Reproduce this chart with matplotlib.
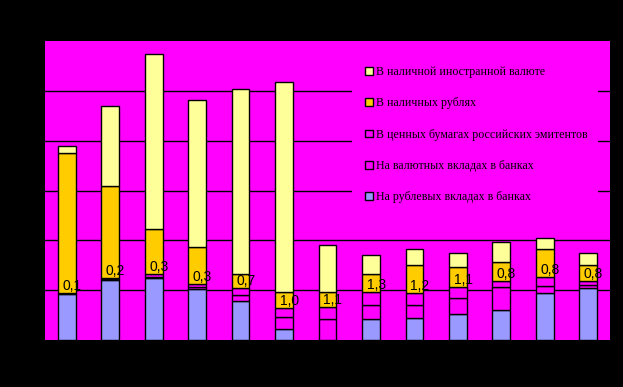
import matplotlib
matplotlib.use("Agg")
import matplotlib.pyplot as plt
import numpy as np
from matplotlib.patches import Rectangle

# ---- data ----
categories = [str(i) for i in range(1, 14)]
rub_deposits = [9.3, 12.1, 12.4, 10.2, 7.8, 2.3, 0.0, 4.2, 4.5, 5.2, 6.0, 9.4, 10.4]
fx_deposits = [0.1, 0.2, 0.25, 0.45, 1.2, 2.3, 4.2, 2.8, 2.6, 3.2, 4.6, 1.5, 0.7]
securities = [0.1, 0.2, 0.55, 0.55, 1.4, 1.8, 2.4, 2.6, 2.4, 2.2, 1.3, 1.7, 0.8]
cash_rub = [28.1, 18.5, 9.0, 7.4, 2.8, 3.3, 3.1, 3.6, 5.6, 4.0, 3.7, 5.6, 3.1]
cash_fx = [1.3, 16.0, 35.2, 29.6, 37.2, 42.0, 9.3, 3.8, 3.2, 2.8, 4.0, 2.2, 2.4]
value_labels = ["0,1", "0,2", "0,3", "0,3", "0,7", "1,0", "1,1", "1,3", "1,2", "1,1", "0,8", "0,8", "0,8"]

series_names = [
    "На рублевых вкладах в банках",
    "На валютных вкладах в банках",
    "В ценных бумагах российских эмитентов",
    "В наличных рублях",
    "В наличной иностранной валюте",
]
series_colors = ["#9999FF", "#FF00FF", "#FF00FF", "#FFCC00", "#FFFF99"]

W, H = 623, 387
fig = plt.figure(figsize=(W / 100, H / 100), dpi=100, facecolor="black")
ax = fig.add_axes([45 / W, (H - 340) / H, (610 - 45) / W, (340 - 41) / H])
ax.set_facecolor("#FF00FF")

x = np.arange(len(categories))
series = [rub_deposits, fx_deposits, securities, cash_rub, cash_fx]
bottom = np.zeros(len(categories))
handles = []
for vals, name, col in zip(series, series_names, series_colors):
    vals = np.array(vals, dtype=float)
    b = ax.bar(x, vals, width=0.41, bottom=bottom, color=col, edgecolor="black",
               linewidth=1.0, label=name, zorder=3)
    handles.append(b)
    bottom = bottom + vals

# value labels just above the securities segment
sec_top = np.array(rub_deposits) + np.array(fx_deposits) + np.array(securities)
for xi, yt, lab in zip(x, sec_top, value_labels):
    ax.annotate(lab, (xi + 0.12, yt), xytext=(0, 0), textcoords="offset points",
                ha="center", va="bottom", fontsize=10, color="black",
                family="Liberation Sans", zorder=5)

# grid lines
for gy in [10, 20, 30, 40, 50]:
    ax.axhline(gy, color="black", linewidth=1.0, zorder=1)

ax.set_xlim(-0.5, 12.5)
ax.set_ylim(0, 60)
ax.set_xticks(x)
ax.set_xticklabels([])
ax.set_yticks([])
ax.tick_params(length=0)
for s in ax.spines.values():
    s.set_visible(False)

# legend backing (hides grid lines)
ax.add_patch(Rectangle((352 / W, (H - 212) / H), (598 - 352) / W, (212 - 52) / H,
                       transform=fig.transFigure, facecolor="#FF00FF", edgecolor="none",
                       zorder=2))

leg = fig.legend(handles[::-1], series_names[::-1], loc="upper left",
                 bbox_to_anchor=(365 / W, (H - 66) / H), frameon=False,
                 prop={"family": "Liberation Serif", "size": 8.6},
                 handlelength=0.64, handleheight=0.64, handletextpad=0.3,
                 labelspacing=1.62, borderpad=0, borderaxespad=0)
for h in leg.legend_handles:
    h.set_edgecolor("black")
    h.set_linewidth(1.0)

fig.savefig("out.png", dpi=100, facecolor="black")
